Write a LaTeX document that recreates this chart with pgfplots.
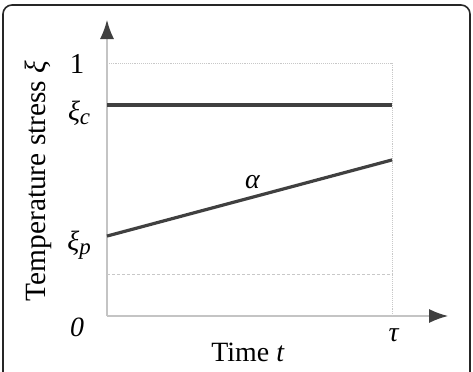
\documentclass[border=0pt]{standalone}
\usepackage{pgfplots}
\pgfplotsset{compat=1.18}
\usetikzlibrary{arrows.meta}
\usepackage{fontspec}
\setmainfont{Liberation Serif}
\definecolor{dk}{HTML}{404040}
\definecolor{ax}{HTML}{C4C4C4}
\definecolor{gd}{HTML}{C8C8C8}
\begin{document}
\begin{tikzpicture}
\path[use as bounding box] (0,0) rectangle (473bp,-372bp);
\draw[line width=1.6bp, black!85, rounded corners=9bp] (3bp,-380bp) -- (3bp,-5bp) -- (470bp,-5bp) -- (470bp,-380bp);
\begin{axis}[
  at={(107bp,-316bp)}, anchor=south west,
  scale only axis, width=341bp, height=296bp,
  xmin=0, xmax=1.196, ymin=0, ymax=1.17,
  axis lines=left,
  axis line style={ax, line width=1.3bp, -{Latex[length=19bp,width=14bp,color=dk]}},
  xtick=\empty, ytick=\empty,
  clip=false,
]
\addplot[gd, densely dotted, line width=0.9bp] coordinates {(0,1) (1,1)};
\addplot[gd, densely dotted, line width=0.9bp] coordinates {(1,0) (1,1)};
\addplot[gd, dashed, dash pattern=on 3bp off 2bp, line width=0.9bp] coordinates {(0,0.166) (1,0.166)};
\addplot[dk, line width=3.2bp] coordinates {(0,0.834) (1,0.834)};
\addplot[dk, line width=3.2bp] coordinates {(0,0.316) (1,0.617)};
\node[font=\fontsize{29}{32}\selectfont] at (axis cs:-0.105,0.997) {1};
\node[font=\fontsize{28}{30}\selectfont\itshape] at (axis cs:-0.097,0.80) {ξ\textsubscript{\fontsize{23}{24}\selectfont c}};
\node[font=\fontsize{28}{30}\selectfont\itshape] at (axis cs:-0.097,0.28) {ξ\textsubscript{\fontsize{23}{24}\selectfont p}};
\node[font=\fontsize{28}{30}\selectfont\itshape] at (axis cs:-0.105,-0.044) {0};
\node[font=\fontsize{28}{30}\selectfont\itshape] at (axis cs:1.005,-0.075) {τ};
\node[font=\fontsize{28}{30}\selectfont\itshape] at (axis cs:0.51,0.528) {α};
\end{axis}
\node[font=\fontsize{28}{30}\selectfont] at (248bp,-352bp) {Time \textit{t}};
\node[font=\fontsize{29.5}{32}\selectfont, rotate=90] at (38bp,-181bp) {Temperature stress \textit{ξ}};
\end{tikzpicture}
\end{document}
